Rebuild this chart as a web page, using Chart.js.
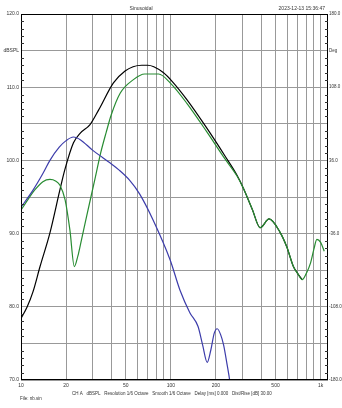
<!DOCTYPE html>
<html>
<head>
<meta charset="utf-8">
<script src="https://cdn.jsdelivr.net/npm/chart.js@4.4.1/dist/chart.umd.min.js"></script>
<style>
  html, body { margin: 0; padding: 0; background: #fff; }
  #wrap { width: 342px; height: 408px; position: relative; }
</style>
</head>
<body>
<div id="wrap"><canvas id="chart"></canvas></div>
<script>
// frequency grid / labels
const xGrid = [10, 20, 30, 40, 50, 60, 70, 80, 90, 100, 200, 300, 400, 500, 600, 700, 800, 900, 1000];
const xLabels = { 10: '10', 20: '20', 50: '50', 100: '100', 200: '200', 500: '500', 1000: '1k' };

// black trace
const blackFreq = [10, 11, 12, 13.4, 15.6, 18.2, 19.6, 22.4, 24.8, 28.9, 33, 41.4, 49.5, 56, 64, 70, 77, 89, 102, 128, 174, 230, 276, 305, 350, 395, 453, 535, 594, 658, 700, 754];
const blackDb = [78.4, 80, 82, 85.5, 90.1, 96.0, 98.7, 102.4, 103.7, 104.9, 106.9, 110.6, 112.2, 112.8, 113.0, 113.0, 112.8, 112.0, 110.8, 108.3, 104.4, 100.6, 98.0, 96.2, 93.3, 90.8, 92.0, 90.2, 88.2, 85.5, 84.6, 83.7];

// green trace
const greenFreq = [10, 11, 12.4, 14, 15.6, 17, 18.2, 19.7, 21.2, 22.7, 24, 25, 27.5, 31.2, 34, 37, 40, 46, 56, 67, 83, 99, 128, 174, 230, 276, 305, 350, 395, 453, 535, 594, 658, 700, 754, 800, 857, 900, 944, 1000, 1057];
const greenDb = [93.2, 94.5, 96.0, 97.1, 97.4, 97.2, 96.6, 94.6, 90.5, 85.5, 87, 88.6, 92.5, 97.5, 101, 103.8, 106.2, 109.2, 111.0, 111.8, 111.8, 110.6, 107.8, 103.9, 100.2, 97.9, 96.2, 93.3, 90.8, 92.0, 90.2, 88.2, 85.5, 84.6, 83.7, 84.5, 86.0, 87.8, 89.2, 88.8, 87.6];

// blue trace
const blueFreq = [10, 12, 14, 15.6, 18, 20, 22.4, 25, 30, 35, 39, 45, 53, 62, 76, 99, 115, 134, 152, 163, 175, 185, 195, 204, 215, 225, 238, 247, 252];
const blueDb = [93.6, 95.9, 98.2, 100, 101.8, 102.7, 103.2, 102.8, 101.4, 100.4, 99.7, 98.7, 97.3, 95.4, 91.9, 86.4, 82.3, 79.2, 77.3, 74.8, 72.4, 74.1, 76.4, 77.0, 76.2, 74.8, 72.0, 70.0, 68.6];

function pairs(fs, vs) {
    return fs.map((f, i) => ({ x: f, y: vs[i] }));
}

const FONT = '"Liberation Sans", Arial, sans-serif';

const extras = {
    id: 'extras',
    afterDraw(chart) {
        const { ctx, chartArea: a, scales } = chart;
        ctx.save();
        // frame
        ctx.strokeStyle = '#000';
        ctx.lineWidth = 1;
        ctx.strokeRect(Math.round(a.left) + 0.5, Math.round(a.top) + 0.5,
            Math.round(a.right - a.left) - 1, Math.round(a.bottom - a.top) - 1);
        // minor ticks every 1 dB on both sides
        ctx.strokeStyle = '#333';
        ctx.beginPath();
        for (let v = 71; v < 120; v++) {
            if (v % 5 === 0) continue;
            const y = Math.round(scales.y.getPixelForValue(v)) + 0.5;
            ctx.moveTo(a.left, y); ctx.lineTo(a.left + 3, y);
            ctx.moveTo(a.right - 3, y); ctx.lineTo(a.right, y);
        }
        ctx.stroke();
        // header / footer text
        ctx.fillStyle = '#333';
        ctx.textBaseline = 'middle';
        ctx.font = '5px ' + FONT;
        ctx.textAlign = 'center';
        ctx.fillText('Sinusoidal', 141, 9);
        ctx.textAlign = 'right';
        ctx.fillText('2023-12-13 15:36:47', 325, 9);
        ctx.font = '4.5px ' + FONT;
        ctx.textAlign = 'left';
        ctx.fillText('CH A   dBSPL   Resolution 1/6 Octave   Smooth 1/6 Octave   Delay [ms] 0.000   Dist/Rise [dB] 30.00', 72, 394);
        ctx.fillText('File: nb.sin', 20, 398.5);
        ctx.restore();
    }
};

new Chart(document.getElementById('chart'), {
    type: 'line',
    data: {
        datasets: [
            { label: 'blue', data: pairs(blueFreq, blueDb), borderColor: 'rgb(60, 60, 170)', order: 0 },
            { label: 'green', data: pairs(greenFreq, greenDb), borderColor: 'rgb(40, 140, 50)', order: 1 },
            { label: 'black', data: pairs(blackFreq, blackDb), borderColor: '#000', order: 2 },
        ]
    },
    options: {
        responsive: true,
        maintainAspectRatio: false,
        animation: false,
        layout: { padding: { top: 14, left: 0, right: 0, bottom: 0 } },
        elements: {
            point: { radius: 0 },
            line: { borderWidth: 1.2, cubicInterpolationMode: 'monotone', fill: false }
        },
        plugins: { legend: { display: false }, tooltip: { enabled: false } },
        scales: {
            x: {
                type: 'logarithmic',
                min: 10,
                max: 1120,
                afterBuildTicks: (scale) => { scale.ticks = xGrid.map(v => ({ value: v })); },
                afterFit: (scale) => { scale.height = 28; },
                grid: { color: '#999', lineWidth: 1, drawTicks: false },
                border: { display: false },
                ticks: {
                    autoSkip: false, maxRotation: 0, padding: 3,
                    color: '#333', font: { size: 5, family: FONT },
                    callback: (v) => xLabels[v] || ''
                }
            },
            y: {
                position: 'left',
                min: 70,
                max: 120,
                afterFit: (scale) => { scale.width = 21; },
                grid: { color: '#999', lineWidth: 1, drawTicks: false },
                border: { display: false },
                ticks: {
                    stepSize: 5, autoSkip: false, padding: 2,
                    color: '#333', font: { size: 5, family: FONT },
                    callback: (v) => v === 115 ? 'dBSPL' : (v % 10 === 0 ? v.toFixed(1) : '')
                }
            },
            y2: {
                position: 'right',
                min: -180,
                max: 180,
                afterFit: (scale) => { scale.width = 14; },
                grid: { display: false, drawTicks: false },
                border: { display: false },
                ticks: {
                    stepSize: 36, autoSkip: false, padding: 1,
                    color: '#333', font: { size: 4.5, family: FONT },
                    callback: (v) => v === 144 ? 'Deg' : ((180 - v) % 72 === 0 ? v.toFixed(1) : '')
                }
            }
        }
    },
    plugins: [extras]
});
</script>
</body>
</html>
